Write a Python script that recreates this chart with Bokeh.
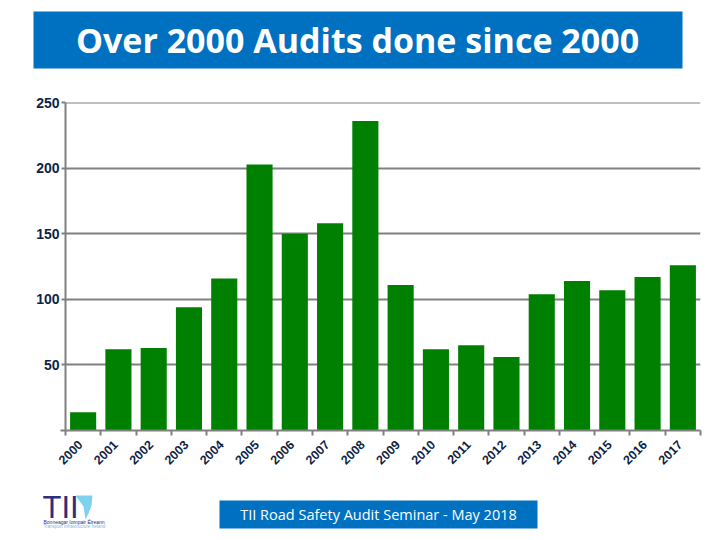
from bokeh.plotting import figure
from bokeh.layouts import column
from bokeh.core.properties import value
from bokeh.models import ColumnDataSource, FixedTicker, LinearAxis, Range1d
from bokeh.embed import file_html
from bokeh.resources import INLINE
import math

years = ["2000","2001","2002","2003","2004","2005","2006","2007","2008",
         "2009","2010","2011","2012","2013","2014","2015","2016","2017"]
audits = [14,62,63,94,116,203,150,158,236,111,62,65,56,104,114,107,117,126]
y_ticks = [50,100,150,200,250]
title_text = "Over 2000 Audits done since 2000"
footer_text = "TII Road Safety Audit Seminar - May 2018"

GREY = "#808080"
NAVY = "#0f1f45"
BLUE = "#0070c0"
GREEN = "#008000"
W = 720
HEAD_H, CHART_H, FOOT_H = 95, 385, 60

slots = list(range(len(years)))
centres = [s + 0.5 for s in slots]
label_pos = [s + 0.42 for s in slots]   # the year labels sit a little left of the bar centres
src = ColumnDataSource(dict(x=centres, top=audits))

def strip(y0, y1):
    """A blank band whose ranges equal page pixels, for the banner and the footer."""
    f = figure(width=W, height=y1 - y0, output_backend="svg", toolbar_location=None,
               x_range=Range1d(0, W), y_range=Range1d(y1, y0),
               x_axis_type=None, y_axis_type=None, outline_line_color=None,
               min_border=0, min_border_left=0, min_border_right=0,
               min_border_top=0, min_border_bottom=0, frame_align=False)
    f.grid.visible = False
    return f

head = strip(0, HEAD_H)
head.quad(left=[33], right=[682], top=[11], bottom=[68], color=BLUE, line_color=None)
head.text(x=[357], y=[39], text=[title_text], text_font=value("Open Sans"),
          text_font_style="bold", text_font_size="34px", text_color="white",
          text_align="center", text_baseline="middle")

p = figure(width=W, height=CHART_H, output_backend="svg", toolbar_location=None,
           x_range=Range1d(0, len(years)), y_range=Range1d(0, 250.2),
           min_border_left=65, min_border_right=20, min_border_top=7, min_border_bottom=50,
           x_axis_type=None, outline_line_color=None, background_fill_color="white",
           frame_align=False)
p.vbar(x="x", top="top", bottom=0, width=0.74, source=src, color=GREEN, line_color=None)

xa = LinearAxis(ticker=FixedTicker(ticks=label_pos, minor_ticks=slots + [len(years)]),
                major_label_overrides={c: y for c, y in zip(label_pos, years)})
xa.major_label_orientation = math.pi / 4
xa.major_label_text_font = "Liberation Sans"
xa.major_label_text_font_style = "bold"
xa.major_label_text_font_size = "12.5px"
xa.major_label_text_color = NAVY
xa.major_label_standoff = 6
xa.major_tick_line_color = None
xa.minor_tick_out = 5
xa.minor_tick_in = 0
xa.minor_tick_line_color = GREY
xa.minor_tick_line_width = 2
xa.axis_line_color = GREY
xa.axis_line_width = 2
p.add_layout(xa, "below")

ya = p.yaxis[0]
ya.ticker = FixedTicker(ticks=y_ticks, minor_ticks=[0])
ya.major_label_text_font = "Liberation Sans"
ya.major_label_text_font_style = "bold"
ya.major_label_text_font_size = "14px"
ya.major_label_text_color = NAVY
ya.major_label_standoff = 1
ya.major_tick_out = 4
ya.major_tick_in = 0
ya.major_tick_line_color = GREY
ya.major_tick_line_width = 2
ya.minor_tick_out = 5
ya.minor_tick_in = 0
ya.minor_tick_line_color = GREY
ya.minor_tick_line_width = 2
ya.axis_line_color = GREY
ya.axis_line_width = 2

p.xgrid.visible = False
p.ygrid.ticker = FixedTicker(ticks=y_ticks)
p.ygrid.grid_line_color = GREY
p.ygrid.grid_line_width = 2

foot = strip(HEAD_H + CHART_H, HEAD_H + CHART_H + FOOT_H)
foot.quad(left=[219], right=[537], top=[500], bottom=[528], color=BLUE, line_color=None)
foot.text(x=[378], y=[514], text=[footer_text], text_font=value("Open Sans"),
          text_font_size="14.5px", text_color="white", text_align="center", text_baseline="middle")

# logo
foot.text(x=[42], y=[507], text=["TII"], text_font=value("Liberation Sans"), text_font_size="31px",
          text_color="#2b2f7e", text_align="left", text_baseline="middle")
foot.patch(x=[75, 92, 91, 88, 85, 83], y=[495, 495, 505, 513, 519, 506], color="#7fd2ee", line_color=None)
foot.text(x=[43], y=[521], text=["Bonneagar Iompair Éireann"], text_font=value("Liberation Sans"),
          text_font_size="5px", text_color="#2b2f7e", text_align="left", text_baseline="middle")
foot.text(x=[43], y=[526], text=["Transport Infrastructure Ireland"], text_font=value("Liberation Sans"),
          text_font_size="4.5px", text_color="#7fb8e0", text_align="left", text_baseline="middle")

open("out.html", "w").write(file_html(column(head, p, foot, spacing=0), INLINE))
